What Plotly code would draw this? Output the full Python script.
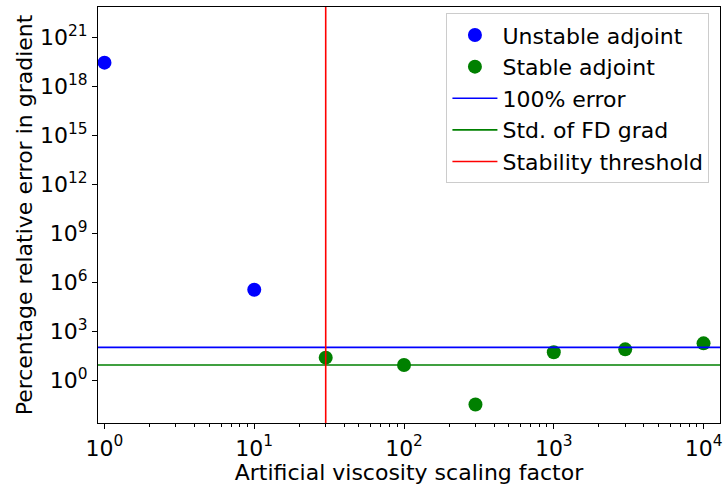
import math
import plotly.graph_objects as go

# Artificial viscosity scaling factors and gradient errors (%)
unstable_x = [1, 10]
unstable_err = [2.7e19, 3.4e5]
stable_x = [30, 100, 300, 1000, 3000, 10000]
stable_err = [23.5, 8.3, 0.032, 50, 76, 177]

full_error = 100.0        # 100% error level
fd_grad_std = 8.3         # standard deviation of the FD gradient
stability_threshold = 30  # scaling factor at which the adjoint becomes stable

# Tick decades
x_decades = [0, 1, 2, 3, 4]
y_decades = [0, 3, 6, 9, 12, 15, 18, 21]

x_range_log = [math.log10(0.905), math.log10(12880)]
y_range_log = [-2.63, 22.84]
x_ends = [10.0 ** v for v in x_range_log]
y_ends = [10.0 ** v for v in y_range_log]

x_minor = [m * 10.0 ** d for d in range(-1, 5) for m in range(2, 10)]

FONT = "DejaVu Sans"
FS = 22

fig = go.Figure()
fig.add_trace(go.Scatter(
    x=unstable_x, y=unstable_err, mode="markers", name="Unstable adjoint",
    marker=dict(color="#0000ff", size=14), legendgroup="a", cliponaxis=False))
fig.add_trace(go.Scatter(
    x=stable_x, y=stable_err, mode="markers", name="Stable adjoint",
    marker=dict(color="#008000", size=14), legendgroup="b", cliponaxis=False))
fig.add_trace(go.Scatter(
    x=x_ends, y=[full_error, full_error], mode="lines", name="100% error",
    line=dict(color="#0000ff", width=1.6), legendgroup="c"))
fig.add_trace(go.Scatter(
    x=x_ends, y=[fd_grad_std, fd_grad_std], mode="lines", name="Std. of FD grad",
    line=dict(color="#008000", width=1.6), legendgroup="d"))
fig.add_trace(go.Scatter(
    x=[stability_threshold, stability_threshold], y=y_ends, mode="lines",
    name="Stability threshold", line=dict(color="#ff0000", width=1.6),
    legendgroup="e"))

axis_common = dict(
    type="log", showgrid=False, zeroline=False, showline=True, mirror=True,
    linecolor="black", linewidth=1.2, ticks="outside", ticklen=5,
    tickcolor="black", tickwidth=1, ticklabeloverflow="allow",
    tickfont=dict(family=FONT, size=FS, color="black"),
)

fig.update_xaxes(
    **axis_common, range=x_range_log,
    tickmode="array",
    tickvals=[10.0 ** d for d in x_decades],
    ticktext=[f"10<sup>{d}</sup>" for d in x_decades],
    minor=dict(ticks="outside", ticklen=3, tickwidth=1, tickcolor="black",
               tickvals=x_minor),
    title=dict(text="Artificial viscosity scaling factor",
               font=dict(family=FONT, size=FS, color="black"), standoff=0),
)
fig.update_yaxes(
    **axis_common, range=y_range_log,
    tickmode="array",
    tickvals=[10.0 ** d for d in y_decades],
    ticktext=[f"10<sup>{d}</sup>" for d in y_decades],
    title=dict(text="Percentage relative error in gradient",
               font=dict(family=FONT, size=FS, color="black"), standoff=1),
)

fig.update_layout(
    width=723, height=485,
    margin=dict(l=98, r=1, t=7, b=62),
    paper_bgcolor="white", plot_bgcolor="white",
    font=dict(family=FONT, size=FS, color="black"),
    showlegend=True,
    legend=dict(
        x=0.983, y=0.985, xanchor="right", yanchor="top",
        bgcolor="rgba(255,255,255,0.8)", bordercolor="#cccccc", borderwidth=1,
        font=dict(family=FONT, size=FS, color="black"),
        tracegroupgap=0, itemwidth=45,
    ),
)

fig.write_html("out.html")
